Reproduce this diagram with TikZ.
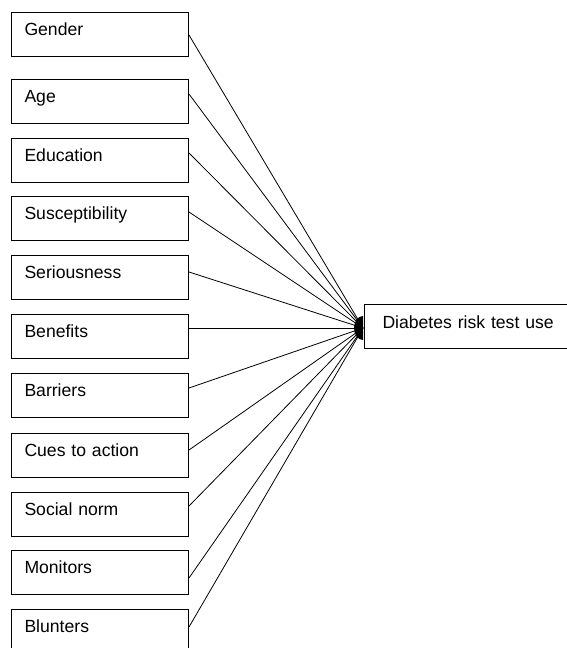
\documentclass[tikz,border=0pt]{standalone}
\usepackage{fontspec}
\setmainfont{Liberation Sans}
\begin{document}
\begin{tikzpicture}[x=1pt,y=1pt,
  factor/.style={draw, line width=1pt, anchor=north west, inner xsep=13pt, inner ysep=0pt,
    text width=151pt, align=left, text height=22.5pt, text depth=21.5pt,
    font=\fontsize{17.6}{20}\selectfont},
  outcome/.style={draw, line width=1pt, anchor=north west, inner xsep=18pt, inner ysep=0pt,
    text width=190pt, align=left, text height=24pt, text depth=20pt,
    font=\fontsize{17.6}{20}\selectfont},
  link/.style={line width=0.8pt}]
\useasboundingbox (0,0) rectangle (566,-648);
\node[factor] (gender) at (11,-12) {Gender};
\node[factor] (age) at (11,-79) {Age};
\node[factor] (edu) at (11,-138) {Education};
\node[factor] (susc) at (11,-196) {Susceptibility};
\node[factor] (seri) at (11,-255) {Seriousness};
\node[factor] (bene) at (11,-314) {Benefits};
\node[factor] (barr) at (11,-373) {Barriers};
\node[factor] (cues) at (11,-433) {Cues to action};
\node[factor] (soc) at (11,-492) {Social norm};
\node[factor] (mon) at (11,-550) {Monitors};
\node[factor] (blu) at (11,-609) {Blunters};
\node[outcome] (drt) at (364,-304) {Diabetes risk test use};
\coordinate (hub) at (363,-328);
\fill ([yshift=12pt]hub) arc[start angle=90, end angle=270, x radius=9pt, y radius=12pt] -- cycle;
\draw[link] ([yshift=-23pt]gender.north east) -- (hub);
\draw[link] ([yshift=-15pt]age.north east) -- (hub);
\draw[link] ([yshift=-15pt]edu.north east) -- (hub);
\draw[link] ([yshift=-16pt]susc.north east) -- (hub);
\draw[link] ([yshift=-17pt]seri.north east) -- (hub);
\draw[link] ([yshift=-14pt]bene.north east) -- (hub);
\draw[link] ([yshift=-15pt]barr.north east) -- (hub);
\draw[link] ([yshift=-17pt]cues.north east) -- (hub);
\draw[link] ([yshift=-14pt]soc.north east) -- (hub);
\draw[link] ([yshift=-28pt]mon.north east) -- (hub);
\draw[link] ([yshift=-18pt]blu.north east) -- (hub);
\end{tikzpicture}
\end{document}
